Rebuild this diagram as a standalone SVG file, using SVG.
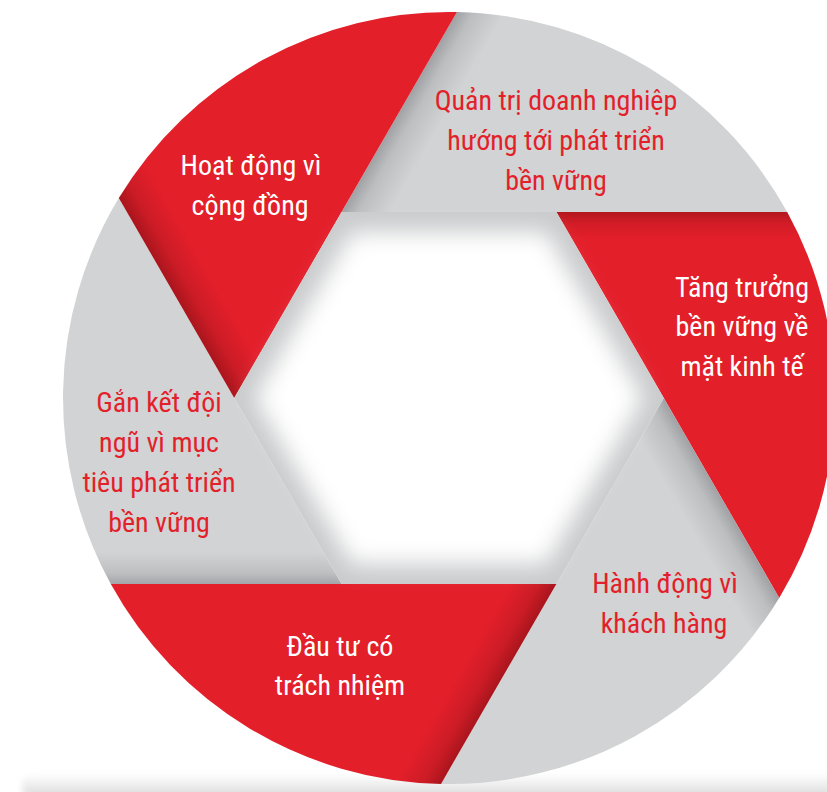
<svg xmlns="http://www.w3.org/2000/svg" width="827" height="792" viewBox="0 0 827 792">
  <defs>
    <style>
      .t { font-family: "Liberation Sans Narrow", "Roboto Condensed", "Arial Narrow", "Liberation Sans", sans-serif; font-size: 28px; text-anchor: middle; }
      .tw { fill: #ffffff; }
      .tr { fill: #e31f2a; }
    </style>
    <linearGradient id="g0" gradientUnits="userSpaceOnUse" x1="341.61" y1="212" x2="378.0" y2="233">
      <stop offset="0" stop-color="#9fa1a4"/><stop offset="0.35" stop-color="#bcbec0"/><stop offset="1" stop-color="#d1d3d4"/>
    </linearGradient>
    <linearGradient id="g1" gradientUnits="userSpaceOnUse" x1="556.39" y1="212" x2="556.39" y2="240">
      <stop offset="0" stop-color="#b3171f"/><stop offset="0.4" stop-color="#d21c26"/><stop offset="1" stop-color="#e31f2a"/>
    </linearGradient>
    <linearGradient id="g2" gradientUnits="userSpaceOnUse" x1="663.78" y1="398" x2="627.4" y2="419">
      <stop offset="0" stop-color="#9fa1a4"/><stop offset="0.35" stop-color="#bcbec0"/><stop offset="1" stop-color="#d1d3d4"/>
    </linearGradient>
    <linearGradient id="g3" gradientUnits="userSpaceOnUse" x1="556.39" y1="584" x2="521.7" y2="564">
      <stop offset="0" stop-color="#a9151d"/><stop offset="0.4" stop-color="#cc1c26"/><stop offset="1" stop-color="#e31f2a"/>
    </linearGradient>
    <linearGradient id="g4" gradientUnits="userSpaceOnUse" x1="341.61" y1="584" x2="341.61" y2="552">
      <stop offset="0" stop-color="#a3a5a8"/><stop offset="0.35" stop-color="#bdbfc1"/><stop offset="1" stop-color="#d1d3d4"/>
    </linearGradient>
    <linearGradient id="g5" gradientUnits="userSpaceOnUse" x1="234.22" y1="398" x2="268.9" y2="378">
      <stop offset="0" stop-color="#a9151d"/><stop offset="0.4" stop-color="#cc1c26"/><stop offset="1" stop-color="#e31f2a"/>
    </linearGradient>
    <linearGradient id="floor" x1="0" y1="0" x2="0" y2="1">
      <stop offset="0" stop-color="#ffffff"/><stop offset="0.5" stop-color="#ececec"/><stop offset="1" stop-color="#d6d6d6"/>
    </linearGradient>
    <filter id="blur" x="-20%" y="-20%" width="140%" height="140%">
      <feGaussianBlur stdDeviation="11"/>
    </filter>
    <filter id="fblur" x="-5%" y="-100%" width="110%" height="300%">
      <feGaussianBlur stdDeviation="3"/>
    </filter>
  </defs>

  <rect width="827" height="792" fill="#ffffff"/>

  <!-- floor shadow -->
  <rect x="22" y="774" width="840" height="24" rx="10" fill="url(#floor)" filter="url(#fblur)"/>

  <g id="blade-quan-tri">
    <path d="M341.61,212 L457,12.1 A386,386 0 0 1 787.2,212 Z" fill="url(#g0)"/>
    <text class="t tr" x="556" y="110">Quản trị doanh nghiệp</text>
    <text class="t tr" x="556" y="150">hướng tới phát triển</text>
    <text class="t tr" x="556" y="190">bền vững</text>
  </g>

  <g id="blade-tang-truong">
    <path d="M556.39,212 L787.2,212 A386,386 0 0 1 779.2,597.9 Z" fill="url(#g1)"/>
    <text class="t tw" x="742" y="297">Tăng trưởng</text>
    <text class="t tw" x="742" y="336">bền vững về</text>
    <text class="t tw" x="742" y="376">mặt kinh tế</text>
  </g>

  <g id="blade-hanh-dong">
    <path d="M663.78,398 L779.2,597.9 A386,386 0 0 1 441,783.9 Z" fill="url(#g2)"/>
    <text class="t tr" x="665" y="593">Hành động vì</text>
    <text class="t tr" x="664" y="633">khách hàng</text>
  </g>

  <g id="blade-dau-tu">
    <path d="M556.39,584 L441,783.9 A386,386 0 0 1 110.8,584 Z" fill="url(#g3)"/>
    <text class="t tw" x="340" y="656">Đầu tư có</text>
    <text class="t tw" x="340" y="695">trách nhiệm</text>
  </g>

  <g id="blade-gan-ket">
    <path d="M341.61,584 L110.8,584 A386,386 0 0 1 118.8,198.1 Z" fill="url(#g4)"/>
    <text class="t tr" x="159" y="412">Gắn kết đội</text>
    <text class="t tr" x="159" y="452">ngũ vì mục</text>
    <text class="t tr" x="159" y="492">tiêu phát triển</text>
    <text class="t tr" x="159" y="532">bền vững</text>
  </g>

  <g id="blade-hoat-dong">
    <path d="M234.22,398 L118.8,198.1 A386,386 0 0 1 457,12.1 Z" fill="url(#g5)"/>
    <text class="t tw" x="251" y="175">Hoạt động vì</text>
    <text class="t tw" x="250" y="215">cộng đồng</text>
  </g>

  <!-- centre opening -->
  <g id="centre">
    <polygon points="341.61,212 556.39,212 663.78,398 556.39,584 341.61,584 234.22,398" fill="#cacbcd"/>
    <polygon points="352,232 546,232 643,398 546,564 352,564 255,398" fill="#ffffff" filter="url(#blur)"/>
  </g>
</svg>
